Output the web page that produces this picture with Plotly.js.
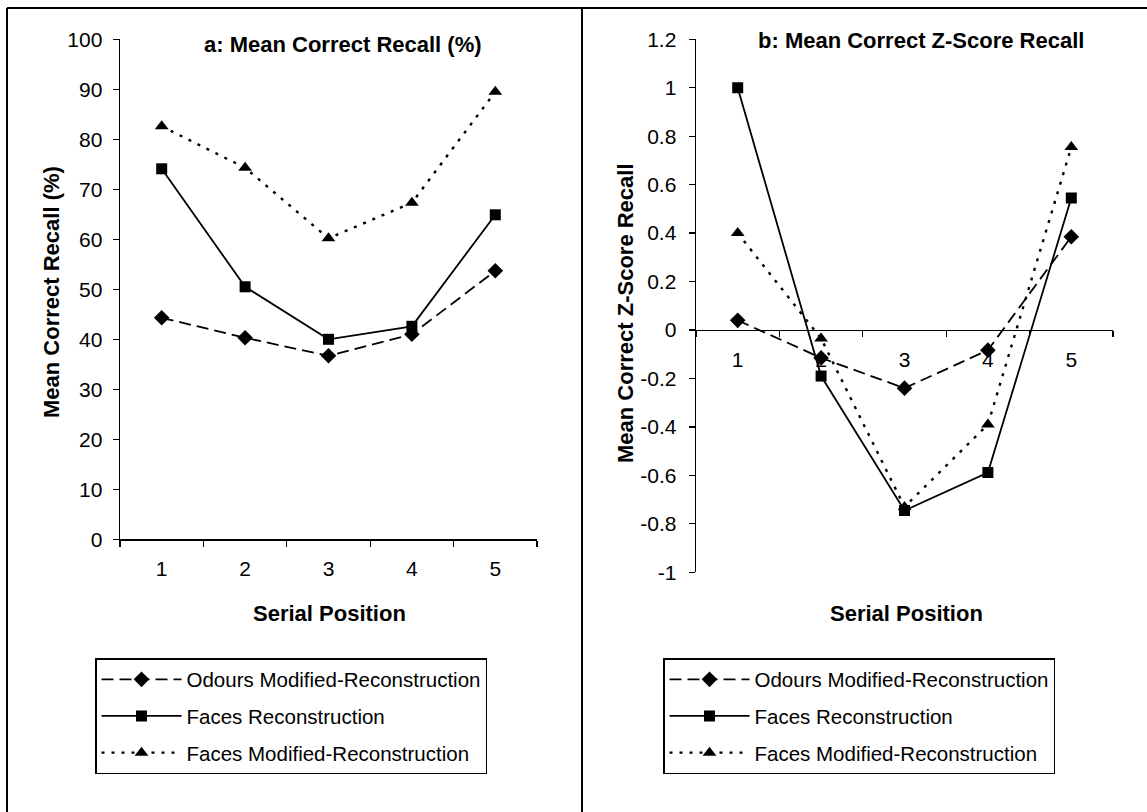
<!DOCTYPE html>
<html>
<head>
<meta charset="utf-8">
<script src="https://cdn.plot.ly/plotly-3.0.1.min.js"></script>
<style>html,body{margin:0;padding:0;background:#fff;}#chart{width:1147px;height:812px;}</style>
</head>
<body>
<div id="chart"></div>
<script>
// ---- data ----
const positions = ['1', '2', '3', '4', '5'];
const seriesNames = ['Odours Modified-Reconstruction', 'Faces Reconstruction', 'Faces Modified-Reconstruction'];
// panel a: mean correct recall (%)
const odoursRecall = [44.3, 40.3, 36.7, 41.0, 53.7];
const facesRecall = [74.1, 50.5, 40.0, 42.6, 64.9];
const facesModRecall = [82.6, 74.3, 60.2, 67.3, 89.5];
// panel b: mean correct z-score recall
const odoursZ = [0.04, -0.115, -0.24, -0.083, 0.385];
const facesZ = [1.0, -0.19, -0.745, -0.588, 0.545];
const facesModZ = [0.40, -0.035, -0.73, -0.39, 0.755];
// tick labels
const yTicksA = [0, 10, 20, 30, 40, 50, 60, 70, 80, 90, 100];
const yTicksB = [1.2, 1, 0.8, 0.6, 0.4, 0.2, 0, -0.2, -0.4, -0.6, -0.8, -1];
const yTickTextB = ['1.2', '1', '0.8', '0.6', '0.4', '0.2', '0', '-0.2', '-0.4', '-0.6', '-0.8', '-1'];
const titleA = 'a: Mean Correct Recall (%)';
const titleB = 'b: Mean Correct Z-Score Recall';
const yTitleA = 'Mean Correct Recall (%)';
const yTitleB = 'Mean Correct Z-Score Recall';
const xTitle = 'Serial Position';

// ---- layout helpers ----
const W = 1147, H = 812;
const FONT = 'Liberation Sans, Arial, Helvetica, sans-serif';
const px = v => v / W;
const py = v => 1 - v / H;

const styles = [
  {dash: '12px,6px', symbol: 'diamond', size: 12, width: 1.8},
  {dash: 'solid', symbol: 'square', size: 11, width: 1.8},
  {dash: '3px,7px', symbol: 'triangle-up', size: 12, width: 2.4}
];

function mk(y, i, xa, ya, lg) {
  return {
    x: positions, y: y, type: 'scatter', mode: 'lines+markers',
    name: seriesNames[i], xaxis: xa, yaxis: ya, legend: lg,
    legendgroup: lg + i,
    line: {color: '#000', width: styles[i].width, dash: styles[i].dash},
    marker: {color: '#000', symbol: styles[i].symbol, size: styles[i].size},
    cliponaxis: false
  };
}

const traces = [
  mk(odoursRecall, 0, 'x', 'y', 'legend'),
  mk(facesRecall, 1, 'x', 'y', 'legend'),
  mk(facesModRecall, 2, 'x', 'y', 'legend'),
  mk(odoursZ, 0, 'x2', 'y2', 'legend2'),
  mk(facesZ, 1, 'x2', 'y2', 'legend2'),
  mk(facesModZ, 2, 'x2', 'y2', 'legend2')
];

const domAy = [py(539.3), py(39.3)];
const domBy = [py(572.3), py(39.3)];
const rangeB = [-1, 1.2];
const zeroPos = domBy[0] + (0 - rangeB[0]) / (rangeB[1] - rangeB[0]) * (domBy[1] - domBy[0]);

const tickFont = {family: FONT, size: 21, color: '#000'};
const baseX = {
  type: 'category', tickson: 'boundaries', range: [-0.5, 4.5],
  showline: true, linecolor: '#000', linewidth: 1.4,
  ticks: 'outside', ticklen: 6, tickcolor: '#000', tickwidth: 1.3,
  showgrid: false, zeroline: false, tickfont: tickFont, ticklabelstandoff: 10,
  fixedrange: true
};
const baseY = {
  showline: true, linecolor: '#000', linewidth: 1.4,
  ticks: 'outside', ticklen: 6, tickcolor: '#000', tickwidth: 1.3,
  showgrid: false, zeroline: false, tickfont: tickFont, fixedrange: true
};

const legendBase = {
  xanchor: 'left', yanchor: 'top', bordercolor: '#000', borderwidth: 1.5,
  bgcolor: '#fff', font: {family: FONT, size: 20.5, color: '#000'},
  traceorder: 'grouped', tracegroupgap: 7, itemwidth: 80
};

const bigFont = {family: FONT, size: 22, color: '#000'};
const layout = {
  width: W, height: H, autosize: false,
  margin: {l: 0, r: 0, t: 0, b: 0},
  paper_bgcolor: '#fff', plot_bgcolor: 'rgba(0,0,0,0)',
  font: {family: FONT, color: '#000'},
  showlegend: true,
  xaxis: Object.assign({}, baseX, {domain: [px(120), px(537)], anchor: 'y'}),
  yaxis: Object.assign({}, baseY, {domain: domAy, anchor: 'x', range: [0, 100], tickvals: yTicksA, ticklabelstandoff: 6}),
  xaxis2: Object.assign({}, baseX, {domain: [px(696), px(1113)], anchor: 'free', position: zeroPos}),
  yaxis2: Object.assign({}, baseY, {domain: domBy, anchor: 'x2', range: rangeB, tickvals: yTicksB, ticktext: yTickTextB, ticklabelstandoff: 8}),
  legend: Object.assign({}, legendBase, {x: px(95), y: py(658)}),
  legend2: Object.assign({}, legendBase, {x: px(663), y: py(658)}),
  annotations: [
    {text: '<b>' + titleA + '</b>', xref: 'paper', yref: 'paper', x: px(343), y: py(45), xanchor: 'center', yanchor: 'middle', showarrow: false, font: bigFont},
    {text: '<b>' + titleB + '</b>', xref: 'paper', yref: 'paper', x: px(921), y: py(41), xanchor: 'center', yanchor: 'middle', showarrow: false, font: bigFont},
    {text: '<b>' + yTitleA + '</b>', xref: 'paper', yref: 'paper', x: px(51), y: py(292), xanchor: 'center', yanchor: 'middle', textangle: -90, showarrow: false, font: bigFont},
    {text: '<b>' + yTitleB + '</b>', xref: 'paper', yref: 'paper', x: px(625), y: py(313), xanchor: 'center', yanchor: 'middle', textangle: -90, showarrow: false, font: bigFont},
    {text: '<b>' + xTitle + '</b>', xref: 'paper', yref: 'paper', x: px(329), y: py(613), xanchor: 'center', yanchor: 'middle', showarrow: false, font: bigFont},
    {text: '<b>' + xTitle + '</b>', xref: 'paper', yref: 'paper', x: px(906), y: py(613), xanchor: 'center', yanchor: 'middle', showarrow: false, font: bigFont}
  ],
  shapes: [
    {type: 'line', xref: 'paper', yref: 'paper', x0: px(7), x1: 1, y0: py(8), y1: py(8), line: {color: '#000', width: 2}},
    {type: 'line', xref: 'paper', yref: 'paper', x0: px(7), x1: px(7), y0: py(8), y1: 0, line: {color: '#000', width: 2}},
    {type: 'line', xref: 'paper', yref: 'paper', x0: px(582), x1: px(582), y0: py(8), y1: 0, line: {color: '#000', width: 2}}
  ]
};

Plotly.newPlot('chart', traces, layout, {displayModeBar: false, staticPlot: true});
</script>
</body>
</html>
